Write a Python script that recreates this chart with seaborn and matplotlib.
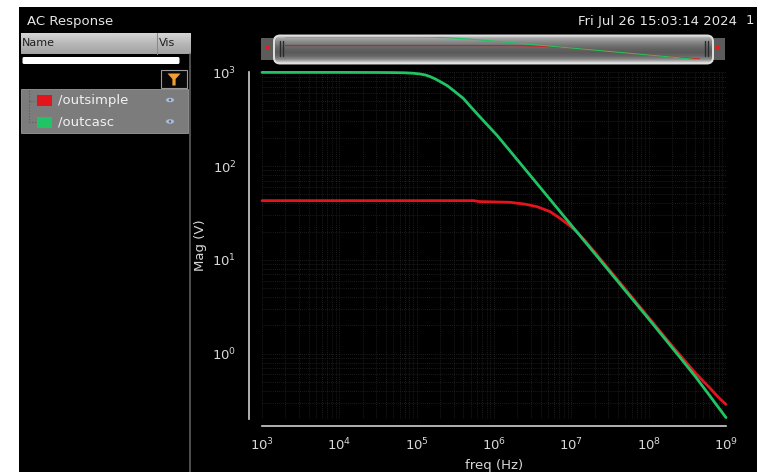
import numpy as np
import pandas as pd
import seaborn as sns
import matplotlib.pyplot as plt
from matplotlib.patches import Rectangle, FancyBboxPatch, Polygon, Ellipse
from matplotlib.colors import LinearSegmentedColormap

# --- values ---
casc_freq = [1e3, 1e4, 3e4, 5e4, 7e4, 9e4, 1.1e5, 1.3e5, 1.5e5, 1.75e5, 2e5, 2.5e5, 3e5,
             4e5, 5e5, 6.6e5, 1.1e6, 1.6e6, 2.5e6, 4e6, 7e6, 1e7, 2e7, 5e7, 1e8, 2e8,
             4e8, 6e8, 8e8, 1e9]
casc_mag = [1000, 1000, 998, 995, 990, 980, 962, 938, 900, 850, 800, 720, 640,
            529, 430, 334, 212, 146, 93.6, 58.5, 33.4, 23.4, 11.7, 4.68, 2.34, 1.16,
            0.57, 0.365, 0.265, 0.207]

simple_freq = [1e3, 1e5, 5.5e5, 6.5e5, 1.6e6, 2.5e6, 3.6e6, 5.3e6, 7.1e6, 9.6e6, 1.17e7,
               1.5e7, 2e7, 5e7, 1e8, 2e8, 4e8, 6e8, 8e8, 1e9]
simple_mag = [42.8, 42.8, 42.8, 41.8, 41.1, 39.3, 36.9, 32.7, 27.8, 23.0, 20.0,
              16.0, 12.1, 4.85, 2.42, 1.21, 0.62, 0.44, 0.34, 0.286]

signals = ["/outsimple", "/outcasc"]
colors = {"/outsimple": "#e3141b", "/outcasc": "#21c465"}

df = pd.concat([
    pd.DataFrame({"freq": simple_freq, "mag": simple_mag, "signal": "/outsimple"}),
    pd.DataFrame({"freq": casc_freq, "mag": casc_mag, "signal": "/outcasc"}),
])

W, H = 760, 472
TXT = "#d8d8d8"

sns.set_theme(style="dark", rc={"figure.facecolor": "white"})
fig = plt.figure(figsize=(W / 100, H / 100), dpi=100)

# --- window chrome, drawn in pixel coordinates ---
bg = fig.add_axes([0, 0, 1, 1], zorder=0)
bg.axis("off")
bg.add_patch(Rectangle((19, 7), 738, 465, fc="black", ec="none", zorder=0))

bg.text(27, 21, "AC Response", color="#e6e6e6", fontsize=9.5, va="center")
bg.text(578, 21, "Fri Jul 26 15:03:14 2024", color="#e6e6e6", fontsize=9.5, va="center")
bg.text(746, 21, "1", color="#e6e6e6", fontsize=9.5, va="center")

# browser header
hdr = LinearSegmentedColormap.from_list("hdr", ["#d4d4d4", "#b8b8b8", "#a2a2a2"])
bg.imshow(np.linspace(0, 1, 20).reshape(-1, 1), cmap=hdr, aspect="auto",
          extent=(21, 191, 54, 33), zorder=2)
bg.plot([157, 157], [33, 54], color="#8a8a8a", lw=0.8, zorder=3)
bg.text(22, 43.5, "Name", color="#202020", fontsize=8, va="center", zorder=4)
bg.text(159, 43.5, "Vis", color="#202020", fontsize=8, va="center", zorder=4)
bg.add_patch(FancyBboxPatch((24, 58.5), 154, 4, boxstyle="round,pad=1.5",
                            fc="white", ec="none"))
bg.plot([189.5, 189.5], [54, 472], color="#5e5e5e", lw=1.2)

# filter button
bg.add_patch(Rectangle((161, 70), 26, 18, fc="#080808", ec="#9a9a9a", lw=0.8))
bg.add_patch(Polygon([(167.5, 73.5), (180.5, 73.5), (175.6, 79), (175.6, 85.5),
                      (172.4, 85.5), (172.4, 79)], fc="#f0a030", ec="none"))

# trace list
bg.add_patch(Rectangle((21, 89), 167, 44, fc="#7c7c7c", ec="#999999", lw=0.6))
bg.plot([29, 29, 36], [90, 100.5, 100.5], color="#5a5a5a", lw=0.8, ls=":")
bg.plot([29, 29, 36], [100.5, 122, 122], color="#5a5a5a", lw=0.8, ls=":")
for i, name in enumerate(signals):
    yc = 100.5 + i * 21.5
    bg.add_patch(Rectangle((37, yc - 5.5), 15, 11, fc=colors[name], ec="none"))
    bg.text(58, yc, name, color="#f2f2f2", fontsize=9.5, va="center")
    bg.add_patch(Ellipse((170, yc - 0.5), 8, 4.5, fc="#aebcd8", ec="none"))
    bg.add_patch(Ellipse((170, yc - 0.5), 2.5, 2.5, fc="#5a6a90", ec="none"))

# overview strip above the plot
bg.add_patch(Rectangle((261, 38), 15, 22, fc="#5c5c5c", ec="none", zorder=1))
bg.add_patch(Rectangle((710, 38), 15, 22, fc="#5c5c5c", ec="none", zorder=1))
bar = FancyBboxPatch((274, 35.5), 439, 28, boxstyle="round,pad=0,rounding_size=6",
                     fc="#6a6a6a", ec="none", zorder=2)
bg.add_patch(bar)
strip = LinearSegmentedColormap.from_list(
    "strip", ["#d0d0d0", "#a2a2a2", "#888888", "#727272", "#626262", "#5a5a5a",
              "#666666", "#8a8a8a", "#d8d8d8"])
im = bg.imshow(np.linspace(0, 1, 60).reshape(-1, 1), cmap=strip, aspect="auto",
               extent=(274, 713, 63.5, 35.5), zorder=3)
im.set_clip_path(bar)
bg.add_patch(FancyBboxPatch((274, 35.5), 439, 28, boxstyle="round,pad=0,rounding_size=6",
                            fc="none", ec="#e0e0e0", lw=1.4, zorder=4))
bg.add_patch(Polygon([(264, 47.5), (269.5, 44.5), (269.5, 50.5)], fc="#e02020",
                     ec="none", zorder=5))
bg.add_patch(Polygon([(721.5, 47.5), (716, 44.5), (716, 50.5)], fc="#e02020",
                     ec="none", zorder=5))
for xb in (279.5, 282.5, 704.5, 707.5):
    bg.plot([xb, xb], [41, 56], color="#2a2a2a", lw=1.0, zorder=5)

bg.set_xlim(0, W)
bg.set_ylim(H, 0)

# --- main magnitude plot ---
ax = fig.add_axes([262 / W, 1 - 419 / H, 464 / W, 347 / H], zorder=1)
ax.set_facecolor("black")
ax.set_xscale("log")
ax.set_yscale("log")
sns.lineplot(data=df, x="freq", y="mag", hue="signal", palette=colors,
             hue_order=signals, lw=2.0, legend=False, ax=ax, clip_on=False)
ax.set_xlim(1e3, 1e9)
ax.set_ylim(0.2, 1010)
ax.set_axisbelow(True)
ax.grid(True, which="both", color="#262626", ls=(0, (1, 1.5)), lw=0.6)

sns.despine(ax=ax, offset={"left": 9.4, "bottom": 5})
for side in ("left", "bottom"):
    ax.spines[side].set_color("#cfcfcf")
    ax.spines[side].set_linewidth(1.2)
ax.tick_params(which="major", direction="out", length=5, width=1, color="#cfcfcf",
               labelcolor=TXT, labelsize=9.5, pad=3)
ax.tick_params(which="minor", direction="out", length=3, width=0.8, color="#cfcfcf")
ax.tick_params(axis="y", which="major", pad=4)
ax.set_xlabel("freq (Hz)", color=TXT, fontsize=9.5, labelpad=4)
ax.set_ylabel("Mag (V)", color=TXT, fontsize=9.5, labelpad=3.5)

# miniature of both traces inside the overview strip
mini = fig.add_axes([285 / W, 1 - 60 / H, 415 / W, 23 / H], zorder=2)
mini.set_xscale("log")
mini.set_yscale("log")
sns.lineplot(data=df, x="freq", y="mag", hue="signal", palette=colors,
             hue_order=signals, lw=0.8, legend=False, ax=mini)
mini.set_xlim(1e3, 1e9)
mini.set_ylim(0.2, 1010)
mini.axis("off")

plt.savefig("out.png", dpi=100, facecolor="white")
